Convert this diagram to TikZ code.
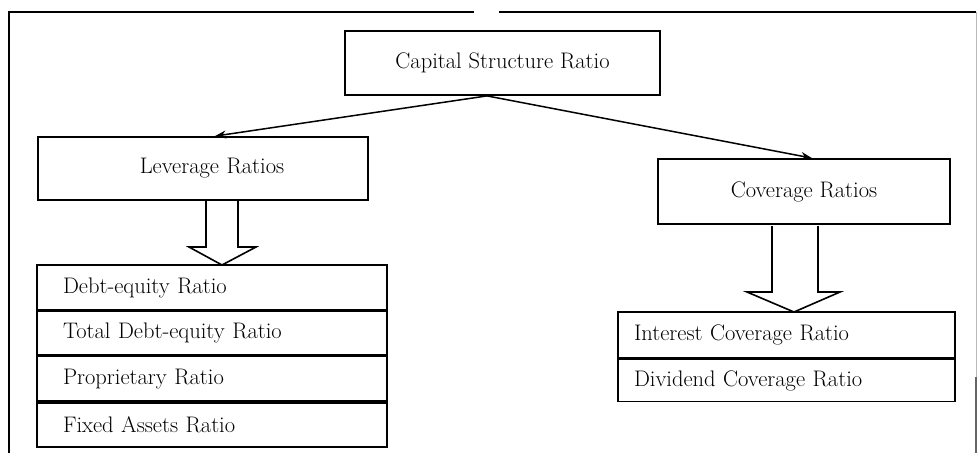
\documentclass[tikz,border=0pt]{standalone}
\usetikzlibrary{arrows.meta,calc}
\begin{document}
\begin{tikzpicture}[x=1pt,y=-1pt,
  every node/.style={font=\fontsize{22.5}{26}\selectfont},
  box/.style={draw,line width=1.8pt,inner sep=0pt},
  row/.style={draw,line width=1.6pt,inner ysep=0pt,align=left},
  link/.style={line width=1.5pt,-{Stealth[length=11pt,width=8pt]}},
  fat/.style={draw,line width=1.6pt,fill=white,line join=miter}]
\useasboundingbox (0,0) rectangle (977,453);

% outer frame: top rule with a small break, left rule, faint right rule
\draw[line width=2.2pt] (474,12) -- (9,12) -- (9,453);
\draw[line width=2.2pt] (499,12) -- (976,12);
\draw[line width=1pt,gray!55] (976,12) -- (976,453);
\draw[line width=1.6pt,gray!80!black] (976,377) -- (976,453);

% boxes
\node[box,minimum width=315pt,minimum height=64pt] (csr) at (502.5,63) {Capital Structure Ratio};
\node[box,minimum width=330pt,minimum height=63pt,text width=310pt,align=center] (lev) at (203,168.5) {\hspace*{18pt}Leverage Ratios};
\node[box,minimum width=292pt,minimum height=65pt] (cov) at (804,191.5) {Coverage Ratios};

% leverage list
\node[row,text width=298pt,inner xsep=26pt,minimum height=45pt] (r1) at (212,287.5) {Debt-equity Ratio};
\node[row,text width=298pt,inner xsep=26pt,minimum height=43pt,anchor=north] (r2) at (r1.south) {Total Debt-equity Ratio};
\node[row,text width=298pt,inner xsep=26pt,minimum height=45pt,anchor=north] (r3) at (r2.south) {Proprietary Ratio};
\node[row,text width=298pt,inner xsep=26pt,minimum height=44pt,anchor=north] (r4) at (r3.south) {Fixed Assets Ratio};

% coverage list
\node[row,text width=305pt,inner xsep=16pt,minimum height=46pt] (c1) at (786.5,335) {Interest Coverage Ratio};
\node[row,text width=305pt,inner xsep=16pt,minimum height=42pt,anchor=north] (c2) at (c1.south) {Dividend Coverage Ratio};

% arrows from the top box
\coordinate (fork) at ($(csr.south)+(-15.5,0)$);
\draw[link] (fork) -- ($(lev.north)+(12,0)$);
\draw[link] (fork) -- ($(cov.north)+(8,0)$);

% block arrows into the lists
\draw[fat] (206,201) -- (206,247) -- (189,247) -- (222,265) -- (256,247) -- (238,247) -- (238,201);
\draw[fat] (772,226) -- (772,292) -- (747,292) -- (794,312) -- (840,292) -- (818,292) -- (818,226);
\end{tikzpicture}
\end{document}
